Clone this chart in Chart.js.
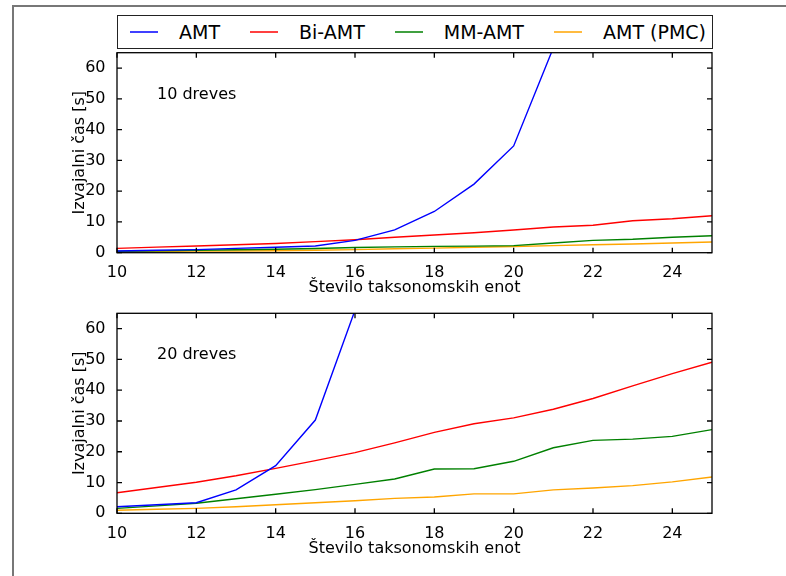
<!DOCTYPE html>
<html>
<head>
<meta charset="utf-8">
<script src="https://cdn.jsdelivr.net/npm/chart.js"></script>
<style>
  body { margin: 0; background: #fff; }
  #page { position: relative; width: 786px; height: 576px; overflow: hidden; font-family: "DejaVu Sans", sans-serif; }
  #frame { position: absolute; left: 12px; top: 5px; width: 900px; height: 700px; border-left: 2px solid #777; border-top: 2px solid #777; }
  canvas { position: absolute; left: 0; }
  #legend { position: absolute; left: 117px; top: 15px; width: 596px; height: 34px; box-sizing: border-box;
            border: 1.5px solid #222; display: flex; align-items: center; padding-left: 12px; gap: 30px;
            font-size: 19px; color: #000; background: #fff; }
  #legend .item { display: flex; align-items: center; }
  #legend svg { margin-right: 21px; }
</style>
</head>
<body>
<div id="page">
  <div id="frame"></div>
  <canvas id="top" width="786" height="300" style="top:0"></canvas>
  <canvas id="bottom" width="786" height="288" style="top:288px"></canvas>
  <div id="legend"></div>
</div>
<script>
// number of taxonomic units (x)
const taxa = [10, 11, 12, 13, 14, 15, 16, 17, 18, 19, 20, 21, 22, 23, 24, 25];
const xTicks = [10, 12, 14, 16, 18, 20, 22, 24];
const yTicks = [0, 10, 20, 30, 40, 50, 60];

const seriesNames = ["AMT", "Bi-AMT", "MM-AMT", "AMT (PMC)"];
const colors = ["#0000ff", "#ff0000", "#008000", "#ffa500"];

// 10 dreves (AMT leaves the plot after 21)
const amt10   = [0.55, 0.8, 1.0, 1.4, 1.75, 2.2, 4.0, 7.4, 13.4, 22.3, 34.7, 66.6];
const biAmt10 = [1.42, 1.8, 2.2, 2.6, 3.0, 3.6, 4.2, 5.0, 5.75, 6.5, 7.4, 8.35, 8.9, 10.4, 11.05, 12.0];
const mmAmt10 = [0.45, 0.6, 0.8, 0.95, 1.1, 1.35, 1.7, 1.9, 2.05, 2.15, 2.3, 3.15, 4.0, 4.35, 5.0, 5.5];
const pmc10   = [0.3, 0.4, 0.5, 0.55, 0.65, 0.8, 1.0, 1.3, 1.5, 1.75, 2.0, 2.3, 2.6, 2.85, 3.15, 3.5];

// 20 dreves (AMT leaves the plot after 16)
const amt20   = [2.15, 2.8, 3.45, 7.6, 15.5, 30.3, 66.0];
const biAmt20 = [6.7, 8.4, 10.1, 12.2, 14.6, 17.1, 19.7, 22.9, 26.3, 29.1, 31.0, 33.8, 37.3, 41.4, 45.4, 49.1];
const mmAmt20 = [1.6, 2.4, 3.25, 4.75, 6.2, 7.7, 9.4, 11.15, 14.4, 14.5, 16.9, 21.3, 23.7, 24.1, 25.0, 27.2];
const pmc20   = [0.97, 1.3, 1.6, 2.15, 2.8, 3.45, 4.1, 4.85, 5.3, 6.3, 6.3, 7.6, 8.2, 9.0, 10.2, 11.8];

const FONT = "DejaVu Sans";

/* ================= FRAME, INWARD TICKS, NOTE ================= */

const framePlugin = {
    id: "frame",
    afterDatasetsDraw(chart, args, opts) {
        const ctx = chart.ctx;
        const a = chart.chartArea;
        const x = chart.scales.x;
        const y = chart.scales.y;
        ctx.save();
        ctx.strokeStyle = "#000";
        ctx.lineWidth = 1.3;
        ctx.beginPath();
        x.ticks.forEach(t => {
            const px = x.getPixelForValue(t.value);
            ctx.moveTo(px, a.bottom); ctx.lineTo(px, a.bottom - 5);
            ctx.moveTo(px, a.top); ctx.lineTo(px, a.top + 5);
        });
        y.ticks.forEach(t => {
            const py = y.getPixelForValue(t.value);
            ctx.moveTo(a.left, py); ctx.lineTo(a.left + 5, py);
            ctx.moveTo(a.right, py); ctx.lineTo(a.right - 5, py);
        });
        ctx.stroke();
        ctx.strokeRect(a.left, a.top, a.right - a.left, a.bottom - a.top);
        ctx.fillStyle = "#000";
        ctx.font = "16px '" + FONT + "'";
        ctx.textBaseline = "middle";
        ctx.fillText(opts.text, a.left + 40, a.top + 42);
        ctx.restore();
    }
};

function makeChart(id, series, note, padTop, padBottom) {
    const datasets = series.map((vals, i) => ({
        label: seriesNames[i],
        data: vals.map((v, j) => ({ x: taxa[j], y: v })),
        borderColor: colors[i],
        borderWidth: 1.4,
        pointRadius: 0,
        tension: 0,
        fill: false
    }));

    return new Chart(document.getElementById(id), {
        type: "line",
        data: { datasets: datasets },
        options: {
            responsive: false,
            animation: false,
            layout: { padding: { left: 66, right: 74, top: padTop, bottom: padBottom } },
            plugins: {
                legend: { display: false },
                tooltip: { enabled: false },
                frame: { text: note }
            },
            scales: {
                x: {
                    type: "linear",
                    min: 10,
                    max: 25,
                    afterBuildTicks: s => { s.ticks = xTicks.map(v => ({ value: v })); },
                    afterFit: s => { s.height = 47.3; },
                    grid: { display: false },
                    border: { display: false },
                    ticks: { color: "#000", font: { family: FONT, size: 16 }, padding: 3, maxRotation: 0, autoSkip: false },
                    title: {
                        display: true,
                        text: "Število taksonomskih enot",
                        color: "#000",
                        font: { family: FONT, size: 16 },
                        padding: { top: 0, bottom: 2.4 }
                    }
                },
                y: {
                    type: "linear",
                    min: 0,
                    max: 65,
                    afterBuildTicks: s => { s.ticks = yTicks.map(v => ({ value: v })); },
                    afterFit: s => { s.width = 51; },
                    grid: { display: false },
                    border: { display: false },
                    ticks: { color: "#000", font: { family: FONT, size: 16 }, padding: 3.5 },
                    title: {
                        display: true,
                        text: "Izvajalni čas [s]",
                        color: "#000",
                        font: { family: FONT, size: 16 },
                        padding: { top: 4, bottom: 0 }
                    }
                }
            }
        },
        plugins: [framePlugin]
    });
}

makeChart("top", [amt10, biAmt10, mmAmt10, pmc10], "10 dreves", 52.7, 0);
makeChart("bottom", [amt20, biAmt20, mmAmt20, pmc20], "20 dreves", 25.3, 15.4);

/* ================= LEGEND ================= */

const legend = document.getElementById("legend");
seriesNames.forEach((name, i) => {
    const item = document.createElement("span");
    item.className = "item";
    item.innerHTML = '<svg width="28" height="6"><line x1="0" y1="3" x2="28" y2="3" stroke="' +
        colors[i] + '" stroke-width="1.5"/></svg>';
    item.appendChild(document.createTextNode(name));
    legend.appendChild(item);
});
</script>
</body>
</html>
